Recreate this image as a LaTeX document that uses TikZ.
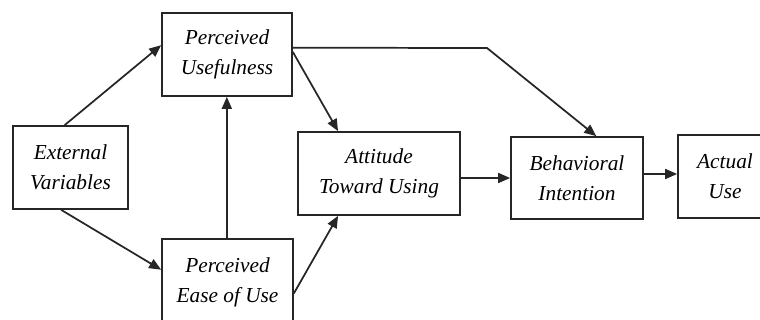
\documentclass[tikz,border=0pt]{standalone}
\usepackage{fontspec}
\setmainfont{Liberation Serif}
\usetikzlibrary{arrows.meta,calc}
\begin{document}
\begin{tikzpicture}[x=0.75pt,y=-0.75pt,
  box/.style={draw=black!85, line width=1.3pt, inner sep=0pt, align=center,
    font=\itshape\fontsize{16}{22.5}\selectfont},
  conn/.style={draw=black!85, line width=1.3pt, -{Triangle[length=9pt,width=7.5pt]}}]
\clip (0,0) rectangle (760,320);
\fill[white] (0,0) rectangle (760,320);
\node[box, minimum width=115*0.75pt, minimum height=83*0.75pt] (ev) at (70.5,167.5) {External\\Variables};
\node[box, minimum width=130*0.75pt, minimum height=83*0.75pt] (pu) at (227,54.5) {Perceived\\Usefulness};
\node[box, minimum width=131*0.75pt, minimum height=86*0.75pt] (peou) at (227.5,282) {Perceived\\Ease of Use};
\node[box, minimum width=162*0.75pt, minimum height=83*0.75pt] (att) at (379,173.5) {Attitude\\Toward Using};
\node[box, minimum width=132*0.75pt, minimum height=82*0.75pt] (bi) at (577,178) {Behavioral\\Intention};
\node[box, minimum width=94*0.75pt, minimum height=83*0.75pt] (au) at (725,176.5) {Actual\\Use};
\coordinate (bend) at (487,48);
\draw[conn] ($(ev.north west)!0.45!(ev.north east)$) -- ($(pu.north west)!0.39!(pu.south west)$);
\draw[conn] ($(ev.south west)!0.42!(ev.south east)$) -- ($(peou.north west)!0.36!(peou.south west)$);
\draw[conn] ([xshift=-0.5pt]peou.north) -- ([xshift=-0.5pt]peou.north |- pu.south);
\draw[conn] ($(pu.north east)!0.47!(pu.south east)$) -- ($(att.north west)!0.25!(att.north east)$);
\draw[conn] ($(peou.north east)!0.63!(peou.south east)$) -- ($(att.south west)!0.25!(att.south east)$);
\draw[conn] ($(pu.north east)!0.42!(pu.south east)$) -- (bend) -- ($(bi.north west)!0.644!(bi.north east)$);
\draw[conn] (att.east |- bi.west) -- (bi.west);
\draw[conn] ([yshift=3pt]bi.east) -- ([yshift=3pt]bi.east -| au.west);
\end{tikzpicture}
\end{document}
